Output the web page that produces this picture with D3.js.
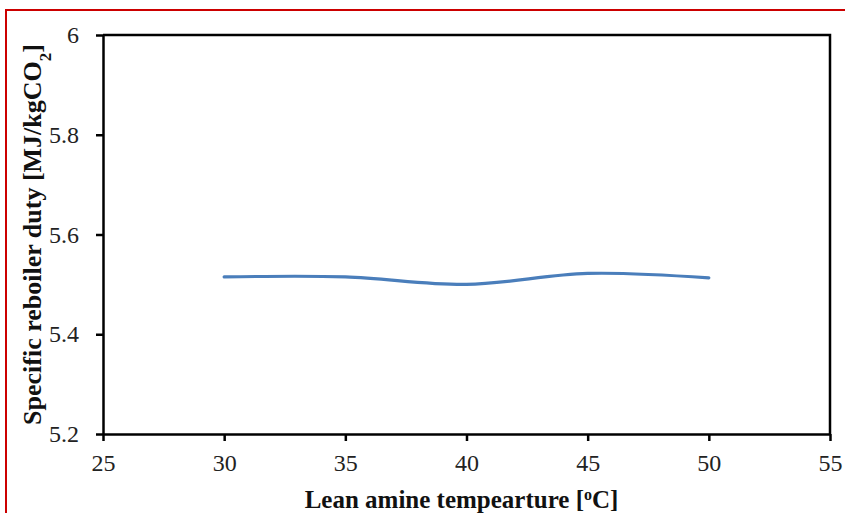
<!DOCTYPE html>
<html>
<head>
<meta charset="utf-8">
<script src="https://cdn.jsdelivr.net/npm/d3@7"></script>
<style>
  html, body { margin: 0; padding: 0; background: #fff; }
  svg { display: block; }
</style>
</head>
<body>
<svg id="chart" width="845" height="513"></svg>
<script>
// Lean amine temperature (°C) vs specific reboiler duty (MJ/kgCO2)
const temperatures = [30, 35, 40, 45, 50];
const reboilerDuty = [5.515, 5.515, 5.500, 5.522, 5.513];
const xTicks = [25, 30, 35, 40, 45, 50, 55];
const yTicks = [5.2, 5.4, 5.6, 5.8, 6.0];

const serif = "Liberation Serif, Tinos, Times New Roman, serif";
const svg = d3.select("#chart");
const margin = { left: 103, top: 35, right: 15, bottom: 79 };
const W = 845, H = 513;

// outer red frame
svg.append("path")
  .attr("d", `M6,513 V10 H845`)
  .attr("fill", "none")
  .attr("stroke", "#cc0000")
  .attr("stroke-width", 2);

const x = d3.scaleLinear().domain([25, 55]).range([margin.left, W - margin.right]);
const y = d3.scaleLinear().domain([5.2, 6.0]).range([H - margin.bottom, margin.top]);

// plot frame (top and right)
svg.append("path")
  .attr("d", `M${x(25)},${y(6)} H${x(55)} V${y(5.2)}`)
  .attr("fill", "none")
  .attr("stroke", "#000")
  .attr("stroke-width", 2.5);

const xAxis = svg.append("g")
  .attr("transform", `translate(0,${y(5.2)})`)
  .call(d3.axisBottom(x).tickValues(xTicks).tickSize(7).tickSizeOuter(0).tickPadding(13)
    .tickFormat(d3.format("d")));

const yAxis = svg.append("g")
  .attr("transform", `translate(${x(25)},0)`)
  .call(d3.axisLeft(y).tickValues(yTicks).tickSize(7).tickSizeOuter(0).tickPadding(17)
    .tickFormat(d => d === 6 ? "6" : d3.format(".1f")(d)));

[xAxis, yAxis].forEach(g => {
  g.attr("font-family", serif).attr("font-size", 24);
  g.select(".domain").attr("stroke", "#000").attr("stroke-width", 2.5);
  g.selectAll(".tick line").attr("stroke", "#000").attr("stroke-width", 2.5);
  g.selectAll(".tick text").attr("fill", "#222");
});

// smoothed series line
const line = d3.line()
  .x((d, i) => x(temperatures[i]))
  .y(d => y(d))
  .curve(d3.curveCatmullRom.alpha(0.5));

svg.append("path")
  .datum(reboilerDuty)
  .attr("d", line)
  .attr("fill", "none")
  .attr("stroke", "#4a7ebb")
  .attr("stroke-width", 3.2)
  .attr("stroke-linecap", "round");

// axis titles
const xTitle = svg.append("text")
  .attr("x", (x(25) + x(55)) / 2 - 5)
  .attr("y", 508)
  .attr("text-anchor", "middle")
  .attr("font-family", serif)
  .attr("font-weight", "bold")
  .attr("font-size", 25)
  .attr("fill", "#111");
xTitle.append("tspan").text("Lean amine tempearture [");
xTitle.append("tspan").attr("baseline-shift", "super").attr("font-size", 16).text("o");
xTitle.append("tspan").text("C]");

const yTitle = svg.append("text")
  .attr("transform", `translate(41,${(y(5.2) + y(6)) / 2}) rotate(-90)`)
  .attr("text-anchor", "middle")
  .attr("font-family", serif)
  .attr("font-weight", "bold")
  .attr("font-size", 26)
  .attr("fill", "#111");
yTitle.append("tspan").text("Specific reboiler duty [MJ/kgCO");
yTitle.append("tspan").attr("baseline-shift", "sub").attr("font-size", 17).text("2");
yTitle.append("tspan").text("]");
</script>
</body>
</html>
